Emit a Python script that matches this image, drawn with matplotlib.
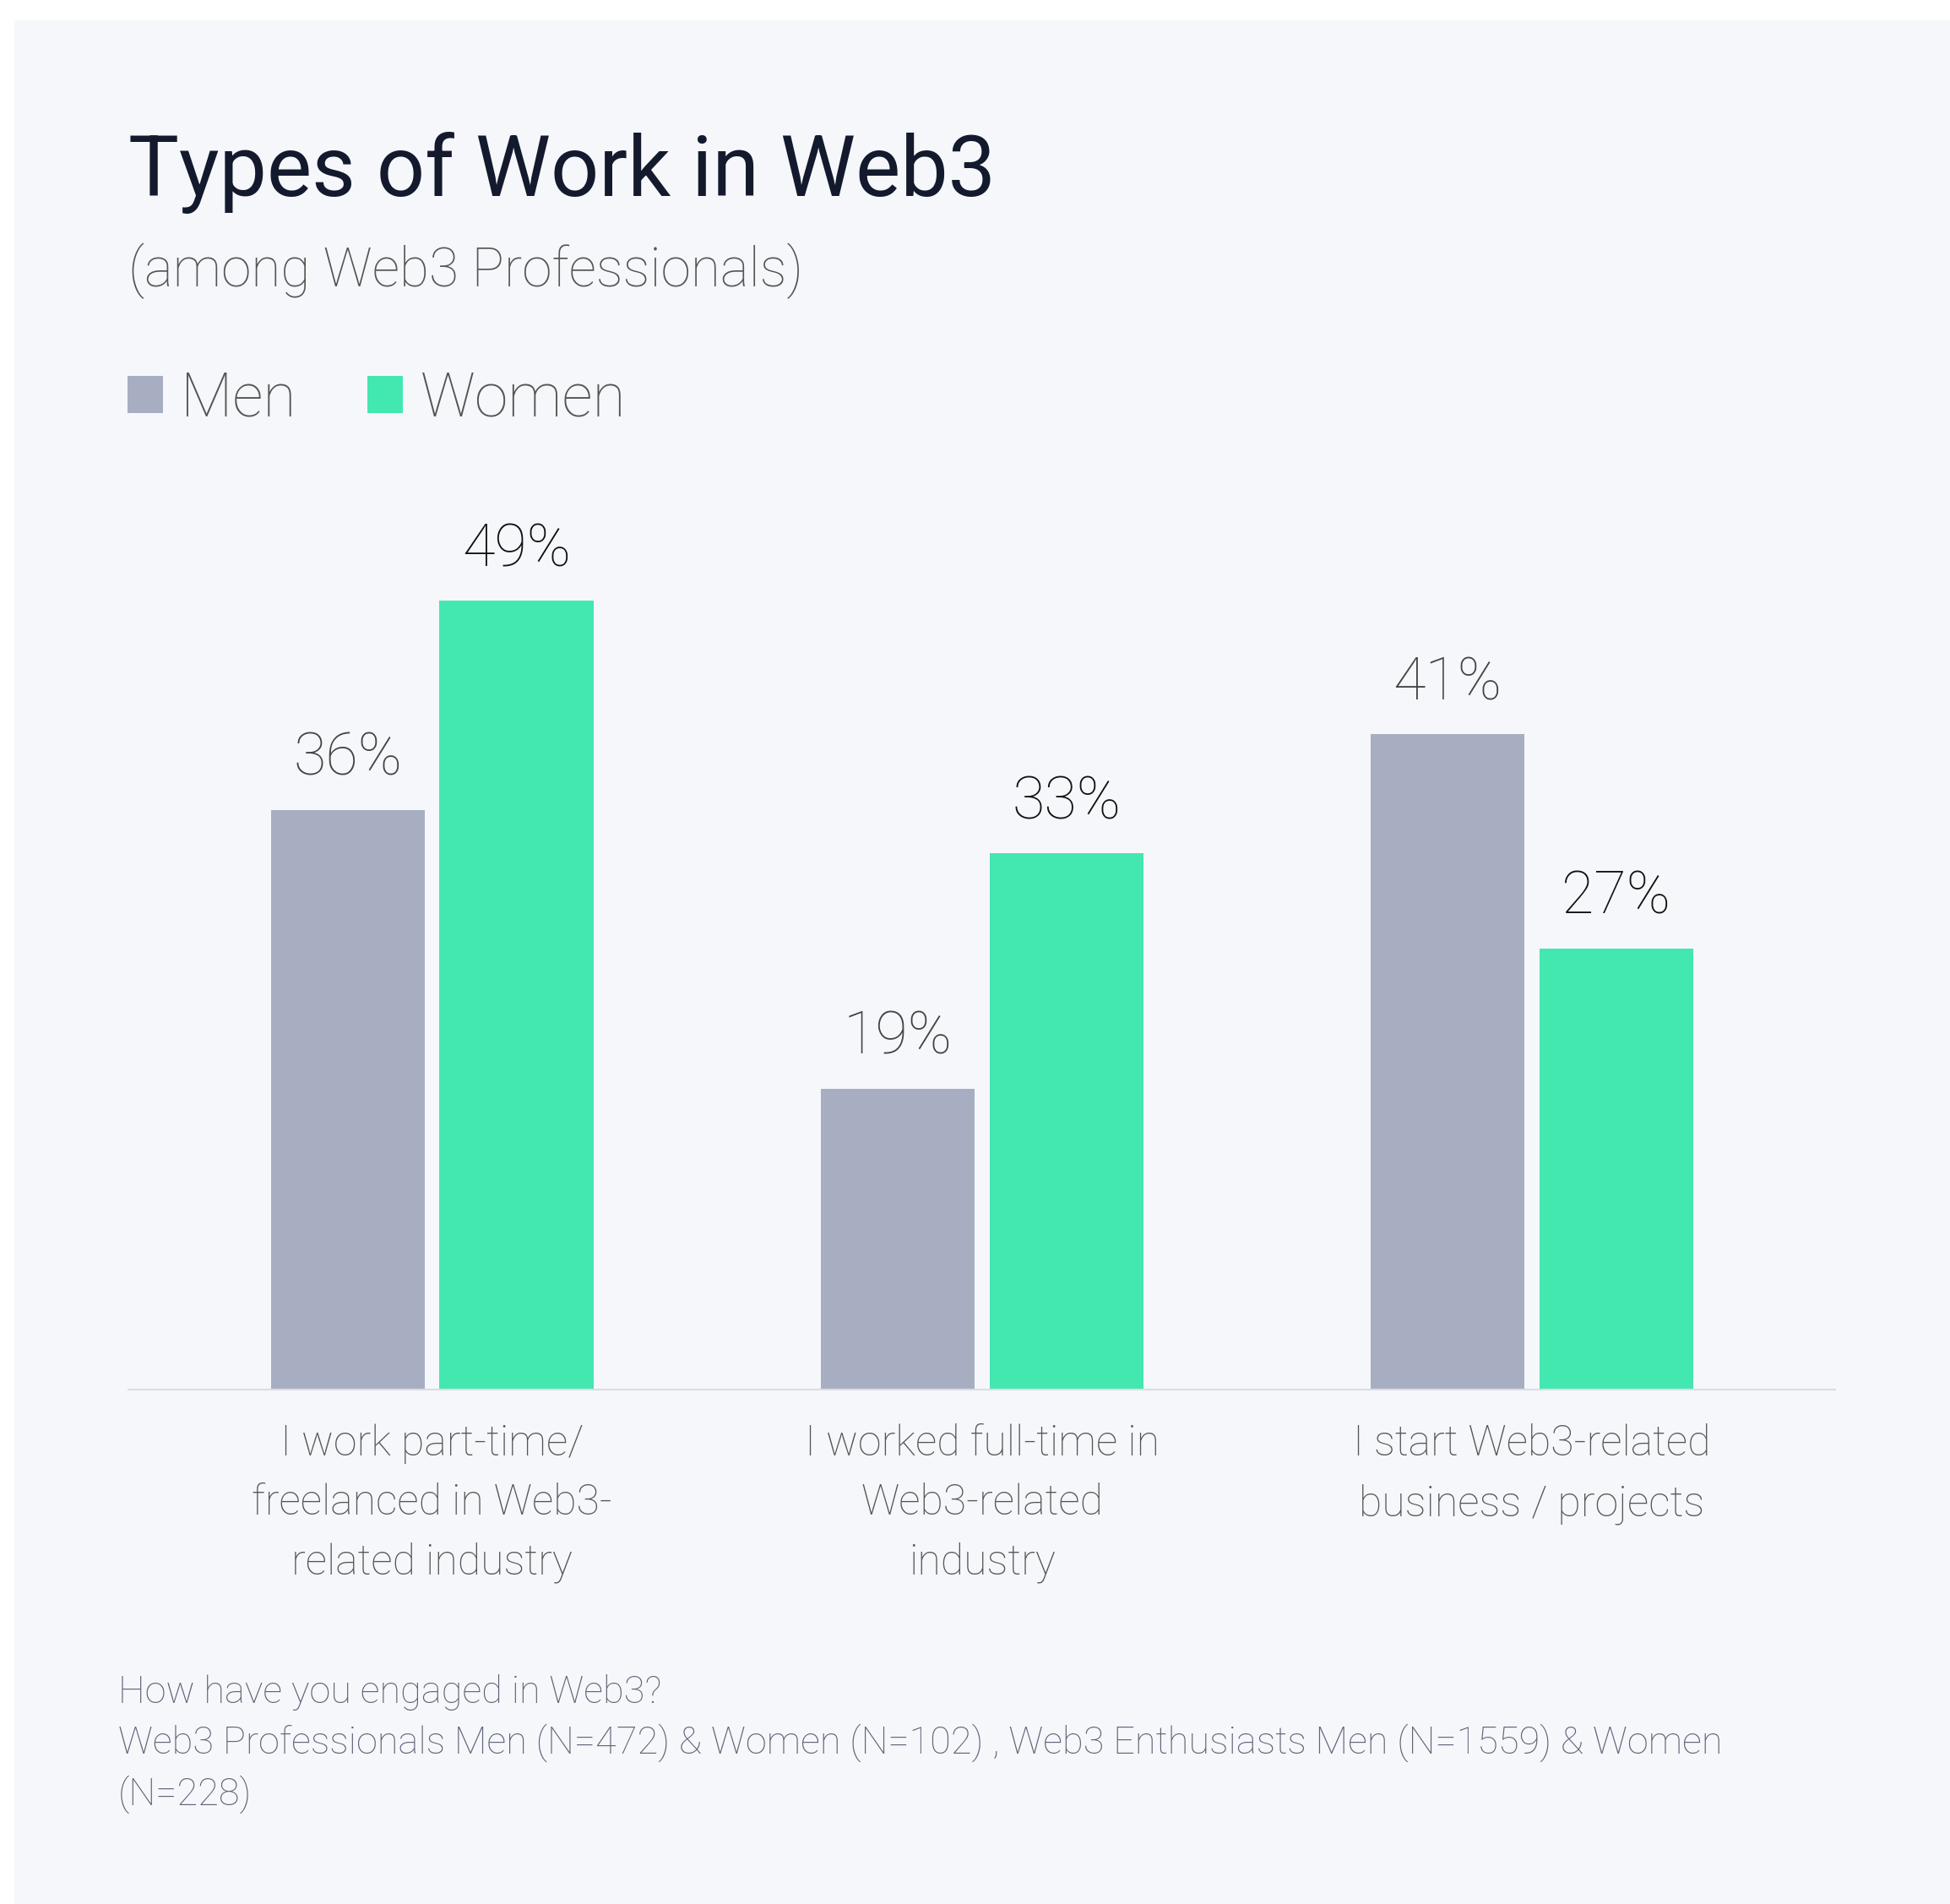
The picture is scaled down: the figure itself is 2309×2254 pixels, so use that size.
import matplotlib
matplotlib.use("Agg")
import matplotlib.pyplot as plt
from matplotlib.patches import Rectangle
import numpy as np

# ---------------- data ----------------
categories = [
    "I work part-time/\nfreelanced in Web3-\nrelated industry",
    "I worked full-time in\nWeb3-related\nindustry",
    "I start Web3-related\nbusiness / projects",
]
series_names = ["Men", "Women"]
men_values = [36.0, 18.7, 40.7]
women_values = [49.0, 33.3, 27.4]

title = "Types of Work in Web3"
subtitle = "(among Web3 Professionals)"
footnote = ("How have you engaged in Web3?\n"
            "Web3 Professionals Men (N=472) & Women (N=102) , Web3 Enthusiasts Men (N=1559) & Women\n"
            "(N=228)")

# ---------------- style ----------------
plt.rcParams['font.family'] = ['Roboto', 'DejaVu Sans']
W, H = 2309, 2254
DPI = 100
PANEL = "#f6f7fb"
MEN_C = "#a8aec2"
WOMEN_C = "#43e7b0"
AXIS_C = "#dcdde2"

fig = plt.figure(figsize=(W / DPI, H / DPI), dpi=DPI, facecolor="white")

# background panel
fig.add_artist(Rectangle((17 / W, 0), 1 - 17 / W, (H - 24) / H,
                         transform=fig.transFigure, facecolor=PANEL,
                         edgecolor="none", zorder=0))

# axes: baseline at y=1645px, spanning x 152..2173 px
ax_top_px = 600
ax = fig.add_axes([152 / W, (H - 1645) / H, (2173 - 152) / W, (1645 - ax_top_px) / H])
ax.set_facecolor("none")
px_per_unit = 19.06
ax.set_ylim(0, (1645 - ax_top_px) / px_per_unit)
ax.set_xlim(-0.5525, 2.5515)

x = np.arange(len(categories))
bw = 0.2796
off = 0.1532
bars_m = ax.bar(x - off, men_values, width=bw, color=MEN_C, label=series_names[0], zorder=2)
bars_w = ax.bar(x + off, women_values, width=bw, color=WOMEN_C, label=series_names[1], zorder=2)

for bars, vals, col in [(bars_m, men_values, "#444444"), (bars_w, women_values, "#111111")]:
    for rect, v in zip(bars, vals):
        ax.annotate(f"{round(v)}%",
                    xy=(rect.get_x() + rect.get_width() / 2, rect.get_height()),
                    xytext=(0, 29.5), textcoords="offset points",
                    ha="center", va="baseline", fontsize=50.5,
                    fontweight="light", color=col)

ax.set_xticks(x, categories)
ax.tick_params(axis="x", length=0, pad=29.5, labelsize=36, labelcolor="#555555")
for lbl in ax.get_xticklabels():
    lbl.set_linespacing(1.594)
    lbl.set_fontweight("light")
ax.set_yticks([])
for s in ["top", "right", "left"]:
    ax.spines[s].set_visible(False)
ax.spines["bottom"].set_color(AXIS_C)
ax.spines["bottom"].set_linewidth(1.5)

# title & subtitle
fig.text(152 / W, 1 - 231.6 / H, title, fontsize=72.4, fontweight="normal",
         color="#141a2d", ha="left", va="baseline")
fig.text(152 / W, 1 - 338.6 / H, subtitle, fontsize=46.1, fontweight="light",
         color="#555555", ha="left", va="baseline")

# legend
fs_leg = 51.6
fig.legend(handles=[bars_m, bars_w], labels=series_names, loc="center left",
           bbox_to_anchor=(151 / W, 1 - 472.5 / H), ncol=2, frameon=False,
           handlelength=0.586, handleheight=0.586,
           handletextpad=0.295, columnspacing=1.18, borderpad=0, borderaxespad=0,
           labelcolor="#555555", prop={"weight": "light", "size": fs_leg})

# footnote (baseline of the last line)
fig.text(140 / W, 1 - 2137 / H, footnote, fontsize=32.5, fontweight="light",
         color="#5f6578", ha="left", va="baseline", linespacing=1.44)

fig.savefig("out.png", dpi=DPI, facecolor="white")
